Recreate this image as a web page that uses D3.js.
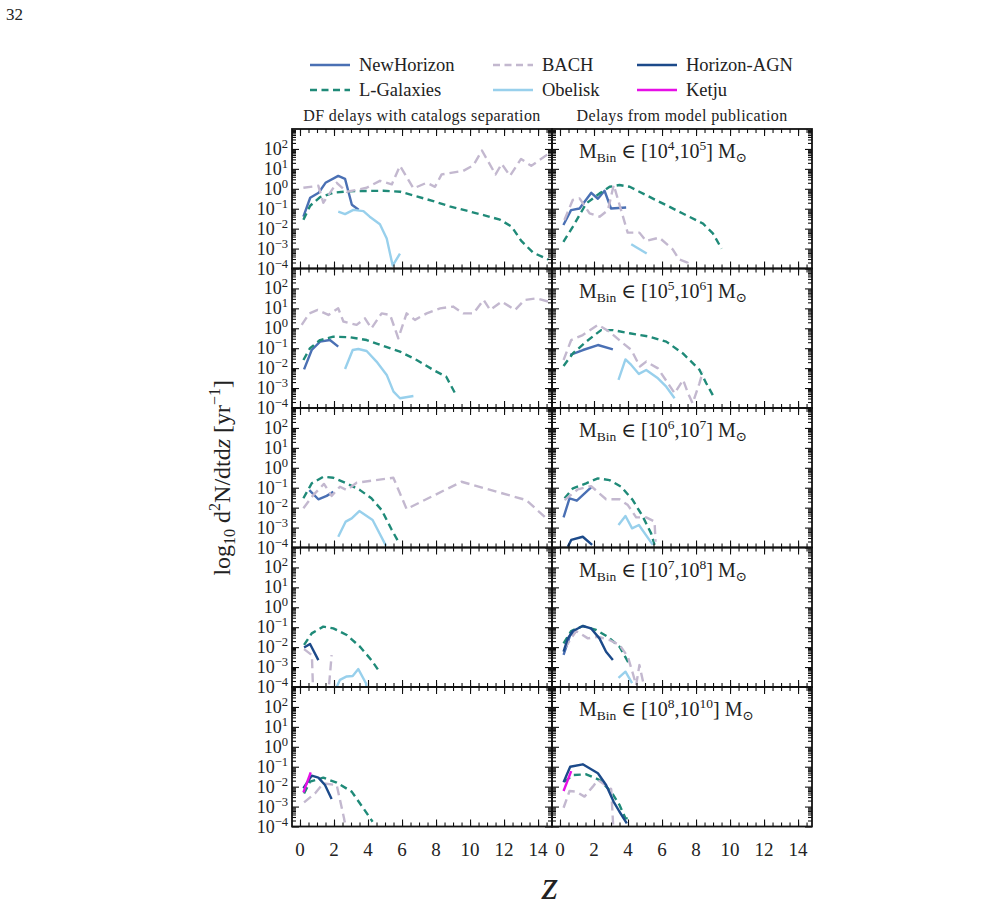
<!DOCTYPE html>
<html>
<head>
<meta charset="utf-8">
<script src="https://cdn.jsdelivr.net/npm/d3@7"></script>
<style>
  body { margin: 0; background: #fff; }
  svg text { font-family: "Liberation Serif", "DejaVu Serif", serif; fill: #222; }
</style>
</head>
<body>
<svg id="chart" width="986" height="920"></svg>
<script>
// tick values
const zTicks = [0, 2, 4, 6, 8, 10, 12, 14];
const zMinor = d3.range(0, 14.51, 0.5);
const yExps = [-4, -3, -2, -1, 0, 1, 2];

const massLabels = [["4", "5"], ["5", "6"], ["6", "7"], ["7", "8"], ["8", "10"]];
const columnTitles = ["DF delays with catalogs separation", "Delays from model publication"];

// models: name, colour, dashed
const models = ["NewHorizon", "L-Galaxies", "BACH", "Obelisk", "Horizon-AGN", "Ketju"];
const colors = ["#4a70b4", "#1f8a78", "#c3b8cf", "#98d0ec", "#1c4a8a", "#e60fe6"];
const dashed = [false, true, true, false, false, false];

// values: [z, log10 d2N/dtdz], one entry per mass bin (row)
// left column: DF delays with catalogs separation
const dfNewHorizon = [
  [[0.2, -1.4], [0.6, -0.45], [1.1, -0.2], [1.5, 0.3], [2.25, 0.65], [2.65, 0.5], [3.05, -0.8], [3.45, -1.05]],
  [[0.24, -2.06], [0.69, -1.09], [1.18, -0.67], [1.76, -0.59], [2.25, -0.92]],
  [[0.55, -1.12], [1.08, -1.58], [1.57, -1.41], [1.96, -1.2]],
  [],
  []
];
const dfLGalaxies = [
  [[0.2, -1.55], [0.6, -0.85], [1.18, -0.42], [1.96, -0.2], [2.9, -0.12], [4.9, -0.1], [5.9, -0.15], [6.86, -0.38],
   [7.84, -0.62], [8.8, -0.88], [9.8, -1.1], [10.8, -1.32], [11.76, -1.55], [12.45, -1.9], [13.0, -2.6], [13.7, -3.2], [14.6, -3.55]],
  [[0.2, -1.59], [0.59, -1.0], [1.18, -0.59], [1.96, -0.42], [2.94, -0.45], [3.92, -0.59], [4.9, -0.89], [5.88, -1.17],
   [6.86, -1.59], [7.84, -2.09], [8.6, -2.43], [9.12, -3.26]],
  [[0.2, -1.53], [0.69, -0.78], [1.37, -0.45], [1.96, -0.5], [2.75, -0.78], [3.53, -1.12], [4.2, -1.53], [4.8, -2.12],
   [5.4, -3.12], [5.84, -3.79]],
  [[0.24, -1.89], [0.69, -1.31], [1.37, -0.97], [1.96, -1.06], [2.75, -1.39], [3.53, -1.98], [4.2, -2.65], [4.67, -3.23]],
  [[0.24, -2.34], [0.59, -1.75], [1.37, -1.55], [2.16, -1.8], [3.04, -2.25], [3.73, -3.09], [4.27, -3.76]]
];
const dfBACH = [
  [[0.2, 0.05], [1.08, 0.15], [1.37, -0.7], [2.16, 0.3], [2.75, -0.15], [3.92, 0.05], [4.7, 0.4], [5.4, 0.22],
   [5.88, 1.15], [6.67, 0.02], [7.45, 0.3], [7.94, 0.1], [8.33, 0.72], [9.6, 0.9], [10.2, 1.18], [10.7, 1.92],
   [11.5, 0.72], [11.86, 1.25], [12.35, 0.65], [13.0, 1.5], [13.6, 1.15], [14.6, 1.75]],
  [[0.1, 0.17], [0.55, 0.75], [1.04, 0.92], [1.67, 0.67], [2.25, 1.0], [2.55, 0.34], [3.33, 0.17], [3.82, 0.5],
   [4.2, 0.0], [4.8, 0.75], [5.3, 0.67], [5.78, -0.5], [6.27, 0.75], [6.76, 0.42], [7.45, 0.75], [8.24, 1.0],
   [9.0, 1.09], [9.6, 0.75], [10.2, 0.75], [10.8, 1.42], [11.18, 0.92], [11.86, 1.34], [12.65, 0.92], [13.2, 1.42],
   [13.9, 1.5], [14.6, 1.34]],
  [[0.2, -2.03], [0.78, -1.37], [1.41, -0.81], [1.86, -1.41], [2.35, -0.95], [2.75, -1.12], [3.33, -0.75],
   [5.49, -0.5], [6.27, -2.07], [9.5, -0.7], [13.3, -1.62], [14.6, -2.62]],
  [[0.24, -2.1], [0.7, -2.4], [0.8, -5], [1.6, -5], [1.86, -2.4]],
  [[0.24, -2.79], [0.88, -2.34], [1.37, -1.84], [2.16, -1.92], [2.59, -3.59], [2.8, -4.6]]
];
const dfObelisk = [
  [[2.25, -1.15], [2.65, -1.27], [3.14, -1.06], [3.73, -1.12], [4.1, -1.4], [4.7, -1.78], [5.1, -2.5], [5.45, -3.85], [5.88, -3.25]],
  [[2.65, -2.04], [3.1, -1.09], [3.43, -1.04], [3.92, -1.14], [4.5, -1.67], [5.1, -2.34], [5.5, -3.18], [5.88, -3.51], [6.67, -3.4]],
  [[2.25, -3.46], [2.69, -2.7], [3.04, -2.54], [3.49, -2.17], [4.27, -2.62], [5.06, -3.92]],
  [[2.0, -4.3], [2.35, -3.64], [2.75, -3.47], [3.1, -3.45], [3.43, -3.1], [3.88, -3.81], [3.95, -4.3]],
  []
];
const dfHorizonAGN = [
  [], [], [],
  [[0.24, -2.02], [0.59, -1.84], [1.08, -2.65]],
  [[0.2, -2.08], [0.69, -1.45], [1.08, -1.55], [1.47, -1.92], [1.86, -2.62]]
];
const dfKetju = [
  [], [], [], [],
  [[0.2, -2.29], [0.63, -1.28]]
];

// right column: delays from model publication
const pubNewHorizon = [
  [[0.2, -1.82], [0.65, -1.07], [1.15, -0.99], [1.84, -0.2], [2.23, -0.5], [2.62, -0.1], [3.0, -0.99], [3.89, -0.94]],
  [[0.6, -1.34], [1.35, -1.09], [2.23, -0.84], [3.11, -1.06]],
  [[0.21, -2.49], [0.56, -1.53], [0.99, -1.65], [1.83, -0.98]],
  [[0.21, -2.39], [0.6, -1.4], [1.0, -1.2]],
  []
];
const pubLGalaxies = [
  [[0.2, -2.66], [0.75, -1.91], [1.54, -0.74], [2.33, -0.23], [2.92, 0.1], [3.5, 0.19], [4.1, 0.1], [5.06, -0.32],
   [6.24, -0.82], [7.22, -1.24], [8.4, -1.74], [8.99, -2.24], [9.5, -3.0]],
  [[0.21, -1.89], [0.76, -1.26], [1.54, -0.67], [2.42, -0.09], [3.11, -0.09], [4.09, -0.25], [5.27, -0.42], [6.25, -0.67],
   [7.23, -1.26], [8.21, -2.09], [8.6, -2.76], [9.09, -3.51]],
  [[0.27, -1.53], [0.76, -1.03], [1.54, -0.78], [2.23, -0.53], [2.91, -0.62], [3.6, -0.95], [4.28, -1.62], [4.87, -2.45],
   [5.36, -3.29], [5.56, -3.87]],
  [[0.21, -1.81], [0.66, -1.19], [1.34, -0.94], [2.13, -1.14], [2.81, -1.48], [3.5, -1.98], [4.05, -2.81]],
  [[0.27, -1.75], [0.76, -1.42], [1.54, -1.38], [2.33, -1.67], [3.01, -2.25], [3.5, -2.92], [3.85, -3.59], [4.13, -3.59]]
];
const pubBACH = [
  [[0.26, -1.57], [0.75, -0.56], [1.15, -0.48], [1.74, -1.23], [2.33, -1.4], [2.82, -1.07], [3.16, 0.19], [3.98, -2.2],
   [4.67, -2.2], [5.06, -2.62], [5.84, -2.45], [6.63, -3.04], [7.0, -3.54], [7.5, -3.7], [7.6, -4.3]],
  [[0.21, -1.59], [0.66, -0.59], [1.34, -0.34], [2.24, 0.17], [2.91, -0.17], [3.7, -0.75], [4.2, -1.09], [4.7, -1.92],
   [5.07, -1.67], [5.76, -2.01], [6.74, -3.26], [7.24, -2.59], [7.53, -3.26], [7.8, -3.76], [8.2, -2.76], [8.4, -2.18]],
  [[0.27, -1.62], [1.05, -1.08], [1.83, -0.92], [2.71, -1.58], [3.5, -1.58], [3.99, -1.87], [4.48, -2.49], [5.07, -2.49],
   [5.56, -2.7], [5.62, -3.71]],
  [[0.27, -2.06], [0.95, -1.19], [1.64, -1.56], [2.23, -1.48], [2.91, -1.64], [3.5, -1.89], [3.99, -2.48], [4.28, -3.31],
   [4.48, -3.9], [4.67, -2.9], [5.03, -4.3]],
  [[0.21, -3.06], [0.56, -2.22], [0.95, -2.25], [1.44, -2.5], [1.93, -2.0], [2.23, -1.67], [3.01, -2.12], [3.15, -4.3]]
];
const pubObelisk = [
  [[4.19, -2.78], [5.1, -3.25]],
  [[3.44, -2.59], [3.85, -1.56], [4.19, -1.84], [4.64, -2.29], [5.07, -2.09], [5.76, -2.51], [6.25, -2.93], [6.74, -3.51]],
  [[3.44, -2.87], [3.85, -2.42], [4.24, -3.04], [4.64, -2.87], [5.46, -3.87]],
  [[3.44, -3.54], [3.85, -3.23], [4.24, -3.81]],
  []
];
const pubHorizonAGN = [
  [], [],
  [[0.46, -3.96], [0.66, -3.62], [1.34, -3.46], [1.89, -3.87]],
  [[0.21, -2.23], [0.46, -1.56], [0.76, -1.19], [1.34, -0.94], [1.83, -1.06], [2.32, -1.56], [2.71, -2.23], [3.11, -2.65]],
  [[0.21, -1.78], [0.6, -1.0], [1.34, -0.88], [2.23, -1.33], [2.71, -1.92], [3.15, -2.75], [3.5, -3.26], [3.93, -3.84]]
];
const pubKetju = [
  [], [], [], [],
  [[0.21, -2.22], [0.66, -1.22]]
];

// series in drawing order, per column
const columns = [
  [dfNewHorizon, dfLGalaxies, dfBACH, dfObelisk, dfHorizonAGN, dfKetju],
  [pubNewHorizon, pubLGalaxies, pubBACH, pubObelisk, pubHorizonAGN, pubKetju]
];

const svg = d3.select("#chart");
const originX = 292, colW = 260, originY = 129, rowH = 139.5;

const x = d3.scaleLinear().domain([-0.47, 14.82]).range([0, colW]);
const y = d3.scaleLog().domain([1e-4, 1e3]).range([rowH, 0]);

const yMinor = [];
for (let e = -4; e < 3; e++) for (let k = 2; k <= 9; k++) yMinor.push(k * Math.pow(10, e));

const line = d3.line()
  .x((d) => x(d[0]))
  .y((d) => y(Math.pow(10, d[1])));

// page number
svg.append("text").attr("x", 6).attr("y", 20).style("font-size", "17px").text("32");

// build every panel
for (let r = 0; r < 5; r++) {
  for (let c = 0; c < 2; c++) {
    const g = svg.append("g")
      .attr("transform", `translate(${originX + c * colW},${originY + r * rowH})`);

    const clipId = `clip-${r}-${c}`;
    g.append("clipPath").attr("id", clipId)
      .append("rect").attr("width", colW).attr("height", rowH);

    const plot = g.append("g").attr("clip-path", `url(#${clipId})`);
    columns[c].forEach((modelData, m) => {
      const pts = modelData[r];
      if (!pts || !pts.length) return;
      plot.append("path")
        .attr("d", line(pts))
        .attr("fill", "none")
        .attr("stroke", colors[m])
        .attr("stroke-width", 2.4)
        .attr("stroke-linejoin", "round")
        .attr("stroke-dasharray", dashed[m] ? (m === 2 ? "9,5" : "7,4.5") : null);
    });

    // ticks pointing inward on all sides
    const axes = [
      [d3.axisBottom(x).tickValues(zTicks), `translate(0,${rowH})`, 7],
      [d3.axisBottom(x).tickValues(zMinor), `translate(0,${rowH})`, 4],
      [d3.axisTop(x).tickValues(zTicks), null, 7],
      [d3.axisTop(x).tickValues(zMinor), null, 4],
      [d3.axisLeft(y).tickValues(yExps.map((e) => Math.pow(10, e))), null, 7],
      [d3.axisLeft(y).tickValues(yMinor), null, 4],
      [d3.axisRight(y).tickValues(yExps.map((e) => Math.pow(10, e))), `translate(${colW},0)`, 7],
      [d3.axisRight(y).tickValues(yMinor), `translate(${colW},0)`, 4]
    ];
    axes.forEach(([ax, tr, len]) => {
      const a = g.append("g").call(ax.tickSize(-len).tickFormat(""));
      if (tr) a.attr("transform", tr);
      a.select(".domain").remove();
      a.selectAll(".tick line").attr("stroke", "#111").attr("stroke-width", 1.1);
    });

    g.append("rect")
      .attr("width", colW).attr("height", rowH)
      .attr("fill", "none").attr("stroke", "#111").attr("stroke-width", 1.8);

    // y tick labels on left column
    if (c === 0) {
      yExps.forEach((e) => {
        const t = g.append("text")
          .attr("x", -4).attr("y", y(Math.pow(10, e)) + 6)
          .attr("text-anchor", "end")
          .style("font-size", "18px");
        t.append("tspan").text("10");
        t.append("tspan").attr("dy", -7).style("font-size", "12.5px")
          .text(e < 0 ? "\u2212" + -e : String(e));
      });
    }

    // x tick labels on bottom row
    if (r === 4) {
      zTicks.forEach((v) => {
        g.append("text")
          .attr("x", x(v)).attr("y", rowH + 29)
          .attr("text-anchor", "middle")
          .style("font-size", "19px")
          .text(v);
      });
    }

    // mass bin annotation in right column
    if (c === 1) {
      const t = g.append("text").attr("x", 27).attr("y", 29).style("font-size", "20px");
      t.append("tspan").text("M");
      t.append("tspan").attr("dy", 4).style("font-size", "13.5px").text("Bin");
      t.append("tspan").attr("dy", -4).text(" \u2208 [10");
      t.append("tspan").attr("dy", -8).style("font-size", "13.5px").text(massLabels[r][0]);
      t.append("tspan").attr("dy", 8).text(",10");
      t.append("tspan").attr("dy", -8).style("font-size", "13.5px").text(massLabels[r][1]);
      t.append("tspan").attr("dy", 8).text("] M");
      t.append("tspan").attr("dy", 4).style("font-size", "13.5px").text("\u2299");
    }
  }
}

// column titles
columnTitles.forEach((txt, c) => {
  svg.append("text")
    .attr("x", originX + c * colW + colW / 2).attr("y", 121)
    .attr("text-anchor", "middle")
    .style("font-size", "16px")
    .style("letter-spacing", "0.4px")
    .text(txt);
});

// legend, filled column by column
const legendX = [310, 493, 637];
const legendY = [65, 90];
models.forEach((name, m) => {
  const lx = legendX[Math.floor(m / 2)], ly = legendY[m % 2];
  svg.append("line")
    .attr("x1", lx).attr("x2", lx + 40).attr("y1", ly).attr("y2", ly)
    .attr("stroke", colors[m]).attr("stroke-width", 2.4)
    .attr("stroke-dasharray", dashed[m] ? "7,4.5" : null);
  svg.append("text")
    .attr("x", lx + 49).attr("y", ly + 6)
    .style("font-size", "18.5px")
    .text(name);
});

// axis labels
const yl = svg.append("text")
  .attr("transform", `translate(230,${originY + 2.5 * rowH}) rotate(-90)`)
  .attr("text-anchor", "middle")
  .style("font-size", "24px");
yl.append("tspan").text("log");
yl.append("tspan").attr("dy", 5).style("font-size", "16px").text("10");
yl.append("tspan").attr("dy", -5).text(" d");
yl.append("tspan").attr("dy", -10).style("font-size", "16px").text("2");
yl.append("tspan").attr("dy", 10).text("N/dtd");
yl.append("tspan").style("font-style", "italic").text("z");
yl.append("tspan").text(" [yr");
yl.append("tspan").attr("dy", -10).style("font-size", "16px").text("\u22121");
yl.append("tspan").attr("dy", 10).text("]");

svg.append("text")
  .attr("x", originX + colW - 2).attr("y", 899)
  .attr("text-anchor", "middle")
  .style("font-size", "42px").style("font-style", "italic")
  .text("z");
</script>
</body>
</html>
